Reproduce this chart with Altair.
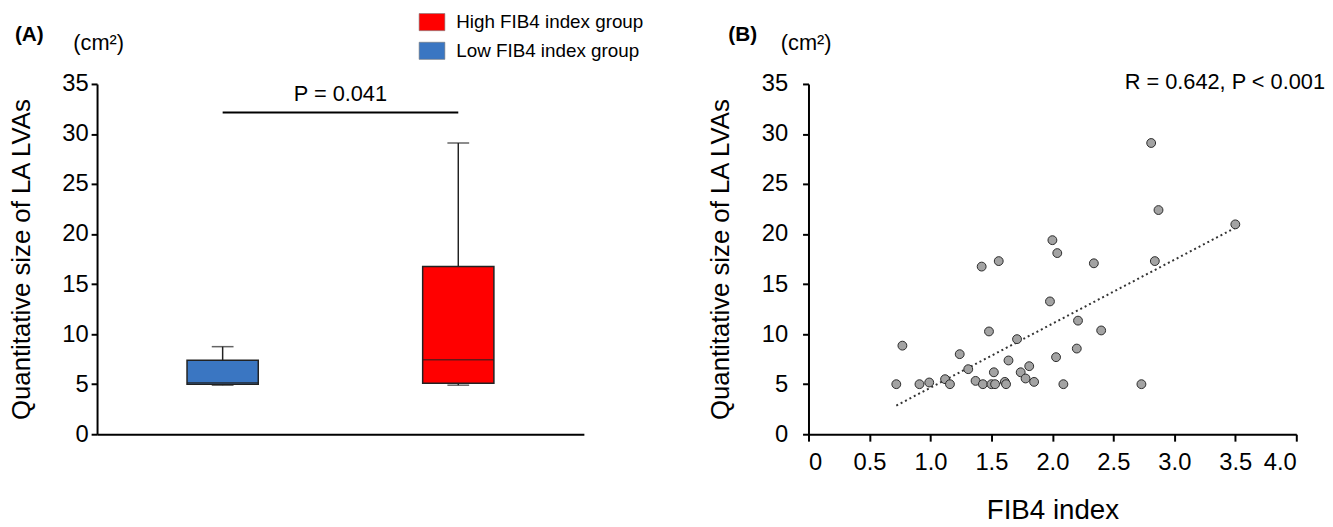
import altair as alt
import pandas as pd

FONT = "Liberation Sans"

# ---------------- Panel A data (box plot) ----------------
groups = ["Low FIB4 index group", "High FIB4 index group"]
legend_order = ["High FIB4 index group", "Low FIB4 index group"]
group_colors = ["#ff0000", "#3a76c2"]
whisker_low = [4.9, 4.9]
q1 = [5.0, 5.1]
median = [5.15, 7.45]
q3 = [7.4, 16.75]
whisker_high = [8.75, 29.1]
sig_value = 32.15
sig_label = "P = 0.041"

# ---------------- Panel B data (scatter) ----------------
fib4 = [0.72, 0.77, 0.91, 0.99, 1.12, 1.16, 1.24, 1.31, 1.37, 1.42,
        1.43, 1.48, 1.50, 1.52, 1.53, 1.56, 1.61, 1.62, 1.64, 1.71,
        1.74, 1.78, 1.81, 1.85, 1.98, 2.00, 2.04, 2.03, 2.09, 2.20,
        2.21, 2.34, 2.40, 2.73, 2.81, 2.84, 2.87, 3.50]
lva = [5.0, 8.85, 5.0, 5.17, 5.5, 5.0, 8.0, 6.5, 5.33, 16.75,
       5.0, 10.27, 5.0, 6.19, 5.0, 17.3, 5.23, 5.0, 7.37, 9.5,
       6.19, 5.57, 6.8, 5.23, 13.27, 19.39, 18.1, 7.7, 5.0, 8.56,
       11.35, 17.08, 10.37, 5.0, 29.1, 17.3, 22.4, 20.97]
trend_x = [0.72, 3.50]
trend_y = [2.86, 20.63]
stat_label = "R = 0.642, P < 0.001"
x_ticks = [0, 0.5, 1.0, 1.5, 2.0, 2.5, 3.0, 3.5, 4.0]
y_ticks = [0, 5, 10, 15, 20, 25, 30, 35]
y_title = "Quantitative size of LA LVAs"
x_title = "FIB4 index"
unit_label = "(cm²)"

W, H = 492, 354

box_df = pd.DataFrame({"group": groups, "wlo": whisker_low, "q1": q1,
                       "med": median, "q3": q3, "whi": whisker_high})

y_scale = alt.Scale(domain=[0, 35], nice=False, zero=True)
y_axis_a = alt.Axis(values=y_ticks, title=y_title, titleFontSize=26, titleFontWeight="normal",
                    titlePadding=28, labelFontSize=24, labelPadding=3, tickSize=6,
                    tickWidth=2, domainWidth=2, grid=False, labelColor="black",
                    titleColor="black", domainColor="black", tickColor="black")
x_enc = alt.X("group:N", sort=groups,
              scale=alt.Scale(domain=groups, paddingInner=0, paddingOuter=0.033),
              axis=alt.Axis(title=None, labels=False, ticks=False, domainWidth=2,
                            domainColor="black", grid=False))

base = alt.Chart(box_df)
whisk_up = base.mark_rule(color="#222", strokeWidth=1.5).encode(
    x=x_enc, y=alt.Y("q3:Q", scale=y_scale, axis=y_axis_a), y2="whi:Q")
whisk_lo = base.mark_rule(color="#222", strokeWidth=1.5).encode(
    x=x_enc, y=alt.Y("wlo:Q"), y2="q1:Q")
box = base.mark_bar(size=72, stroke="#222", strokeWidth=1.5).encode(
    x=x_enc, y=alt.Y("q1:Q"), y2="q3:Q",
    color=alt.Color("group:N", scale=alt.Scale(domain=legend_order, range=group_colors),
                    legend=alt.Legend(title=None, orient="none", legendX=329, legendY=-72,
                                      symbolType="M-1.5,-1H1.5V1H-1.5Z", symbolSize=300,
                                      symbolStrokeColor="#777", symbolStrokeWidth=0.6,
                                      labelFontSize=19, labelColor="black", labelOffset=15,
                                      labelLimit=0, rowPadding=8, padding=0, labelFont=FONT)))
med = base.mark_tick(size=72, thickness=1.5, color="#222").encode(x=x_enc, y=alt.Y("med:Q"))
cap_hi = base.mark_tick(size=22, thickness=1.5, color="#222").encode(x=x_enc, y=alt.Y("whi:Q"))
cap_lo = base.mark_tick(size=22, thickness=1.5, color="#222").encode(x=x_enc, y=alt.Y("wlo:Q"))

sig_df = pd.DataFrame({"g1": [groups[0]], "g2": [groups[1]], "y": [sig_value], "t": [sig_label]})
sig_rule = alt.Chart(sig_df).mark_rule(color="black", strokeWidth=2).encode(
    x=alt.X("g1:N", sort=groups), x2="g2:N", y="y:Q")
sig_text = alt.Chart(sig_df).mark_text(fontSize=22, dx=119, dy=-12, baseline="alphabetic",
                                       font=FONT, color="black").encode(
    x=alt.X("g1:N", sort=groups), y="y:Q", text="t:N")

lab_a = alt.Chart(pd.DataFrame({"t": ["(A)"]})).mark_text(
    fontSize=21, fontWeight="bold", align="left", baseline="middle", font=FONT, color="black"
).encode(text="t:N", x=alt.value(-83), y=alt.value(-49))
unit_a = alt.Chart(pd.DataFrame({"t": [unit_label]})).mark_text(
    fontSize=22, align="left", baseline="middle", font=FONT, color="black"
).encode(text="t:N", x=alt.value(-24), y=alt.value(-41))

panel_a = alt.layer(whisk_up, whisk_lo, box, med, cap_hi, cap_lo, sig_rule, sig_text,
                    lab_a, unit_a).properties(width=W, height=H)

# ---------------- Panel B ----------------
sc_df = pd.DataFrame({"fib4": fib4, "lva": lva})
tr_df = pd.DataFrame({"fib4": trend_x, "lva": trend_y})

x_scale_b = alt.Scale(domain=[0, 4], nice=False)
x_axis_b = alt.Axis(values=x_ticks, title=x_title, titleFontSize=28, titleFontWeight="normal",
                    titlePadding=22, labelFontSize=24, labelPadding=10, tickSize=7, tickWidth=2,
                    domainWidth=2, grid=False, labelColor="black", titleColor="black",
                    domainColor="black", tickColor="black",
                    labelExpr="datum.value == 0 ? '0' : format(datum.value, '.1f')")
y_axis_b = alt.Axis(values=y_ticks, title=y_title, titleFontSize=26, titleFontWeight="normal",
                    titlePadding=28, labelFontSize=24, labelPadding=15, tickSize=6,
                    tickWidth=2, domainWidth=2, grid=False, labelColor="black",
                    titleColor="black", domainColor="black", tickColor="black")

trend = alt.Chart(tr_df).mark_line(color="#333", strokeWidth=2, strokeDash=[2, 3]).encode(
    x=alt.X("fib4:Q", scale=x_scale_b, axis=x_axis_b),
    y=alt.Y("lva:Q", scale=y_scale, axis=y_axis_b))
pts = alt.Chart(sc_df).mark_point(filled=True, size=80, fill="#a3a3a3", stroke="#2a2a2a",
                                  strokeWidth=1, opacity=1, shape="circle").encode(
    x=alt.X("fib4:Q"), y=alt.Y("lva:Q"))
stat = alt.Chart(pd.DataFrame({"t": [stat_label]})).mark_text(
    fontSize=22, align="right", baseline="middle", dx=29, dy=-2, font=FONT, color="black"
).encode(text="t:N", x=alt.datum(4.0), y=alt.datum(35))
lab_b = alt.Chart(pd.DataFrame({"t": ["(B)"]})).mark_text(
    fontSize=21, fontWeight="bold", align="left", baseline="middle", font=FONT, color="black"
).encode(text="t:N", x=alt.value(-81), y=alt.value(-49))
unit_b = alt.Chart(pd.DataFrame({"t": [unit_label]})).mark_text(
    fontSize=22, align="left", baseline="middle", font=FONT, color="black"
).encode(text="t:N", x=alt.value(-28), y=alt.value(-41))

panel_b = alt.layer(trend, pts, stat, lab_b, unit_b).properties(width=493, height=H)

chart = alt.hconcat(panel_a, panel_b, spacing=125).properties(
    padding={"left": 0, "top": 2, "right": 0, "bottom": 0},
    background="white"
).configure(font=FONT, view=alt.ViewConfig(stroke=None))

chart.save("out.html", embed_options={"renderer": "svg", "actions": False})
